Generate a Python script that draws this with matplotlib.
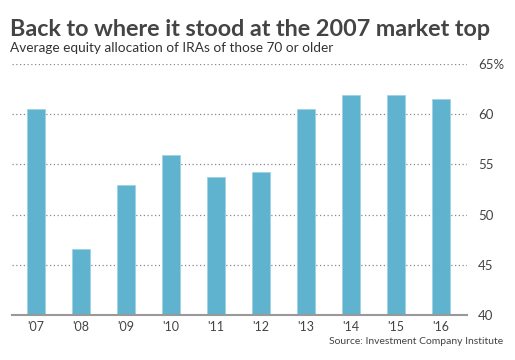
import numpy as np
import matplotlib.pyplot as plt

# data
years = ["'07", "'08", "'09", "'10", "'11", "'12", "'13", "'14", "'15", "'16"]
equity_pct = [60.5, 46.6, 52.9, 55.9, 53.7, 54.2, 60.5, 61.9, 61.9, 61.5]
yticks = [40, 45, 50, 55, 60, 65]
ytick_labels = ['40', '45', '50', '55', '60', '65%']

plt.rcParams['font.family'] = ['Lato', 'DejaVu Sans']

fig = plt.figure(figsize=(5.15, 3.6), dpi=100)
ax = fig.add_axes([12 / 515, 45 / 360, 455 / 515, 251 / 360])

x = np.arange(len(years))
ax.bar(x, equity_pct, width=0.4, bottom=0, color='#60b3ce',
       edgecolor='#9fd3e4', linewidth=0.6, zorder=3)

ax.set_ylim(40, 65)
ax.set_xlim(-0.533, 9.578)
ax.set_yticks(yticks)
ax.set_yticklabels(ytick_labels)
ax.yaxis.tick_right()
ax.set_xticks(x)
ax.set_xticklabels(years)

for y in yticks[1:]:
    ax.axhline(y, color='#888888', linestyle=(0, (1, 2)), linewidth=0.9, zorder=1)

for s in ['top', 'left', 'right']:
    ax.spines[s].set_visible(False)
ax.spines['bottom'].set_color('#999999')
ax.spines['bottom'].set_linewidth(1.5)
ax.spines['bottom'].set_zorder(4)

ax.tick_params(axis='y', length=0, pad=8, labelsize=9.5, labelcolor='#444444')
ax.tick_params(axis='x', length=0, pad=4.5, labelsize=9, labelcolor='#444444')

fig.text(10 / 515, 1 - 29 / 360, 'Back to where it stood at the 2007 market top',
         fontsize=16.8, fontweight='bold', color='#444444', va='center', ha='left')
fig.text(10 / 515, 1 - 48 / 360, 'Average equity allocation of IRAs of those 70 or older',
         fontsize=9.8, color='#333333', va='center', ha='left')
fig.text(503 / 515, 1 - 341 / 360, 'Source: Investment Company Institute',
         fontsize=7.5, color='#444444', va='center', ha='right')

fig.savefig('out.png', dpi=100)
